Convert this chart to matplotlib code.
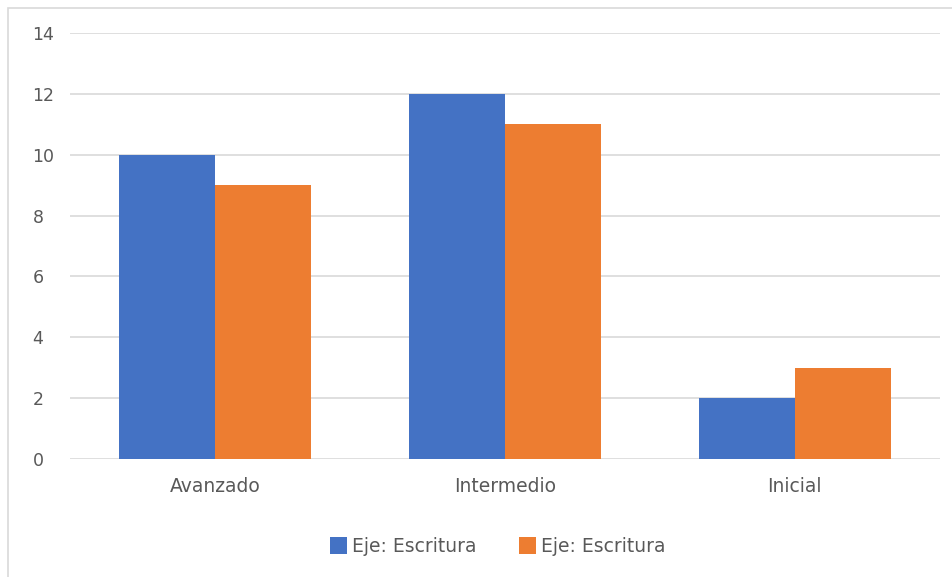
import numpy as np
import matplotlib.pyplot as plt
from matplotlib.patches import Rectangle

# datos
categorias = ["Avanzado", "Intermedio", "Inicial"]
serie_1 = [10, 12, 2]
serie_2 = [9, 11, 3]
nombre_1 = "Eje: Escritura"
nombre_2 = "Eje: Escritura"
ticks_y = [0, 2, 4, 6, 8, 10, 12, 14]

azul = "#4472C4"
naranja = "#ED7D31"
gris_texto = "#595959"

plt.rcParams['font.family'] = ['DejaVu Sans']

fig = plt.figure(figsize=(9.53, 5.77), dpi=100)
ax = fig.add_axes([0.0735, 0.2045, 0.9125, 0.7383])

# marco exterior del grafico
fig.patches.append(Rectangle((0.008, -0.01), 1.5, 0.997, transform=fig.transFigure,
                             fill=False, edgecolor="#D9D9D9", linewidth=1.2))

x = np.arange(len(categorias))
ancho = 0.331
ax.bar(x - ancho / 2, serie_1, ancho, color=azul, label=nombre_1, zorder=3)
ax.bar(x + ancho / 2, serie_2, ancho, color=naranja, label=nombre_2, zorder=3)

ax.set_xlim(-0.5, 2.5)
ax.set_ylim(0, 14)
ax.set_yticks(ticks_y)
ax.set_xticks(x)
ax.set_xticklabels(categorias)
ax.tick_params(axis='both', length=0, colors=gris_texto)
ax.tick_params(axis='x', labelsize=13.5, pad=13)
ax.tick_params(axis='y', labelsize=12.5, pad=27)
for lbl in ax.get_yticklabels():
    lbl.set_horizontalalignment('left')
ax.grid(axis='y', color="#D9D9D9", linewidth=1.2, zorder=0)
for s in ax.spines.values():
    s.set_visible(False)

leg = ax.legend(loc='upper center', bbox_to_anchor=(0.492, -0.143), ncol=2,
                frameon=False, fontsize=13.5, handlelength=0.9, handleheight=1.0,
                handletextpad=0.25, columnspacing=2.3)
for t in leg.get_texts():
    t.set_color(gris_texto)

fig.savefig("out.png", dpi=100)
